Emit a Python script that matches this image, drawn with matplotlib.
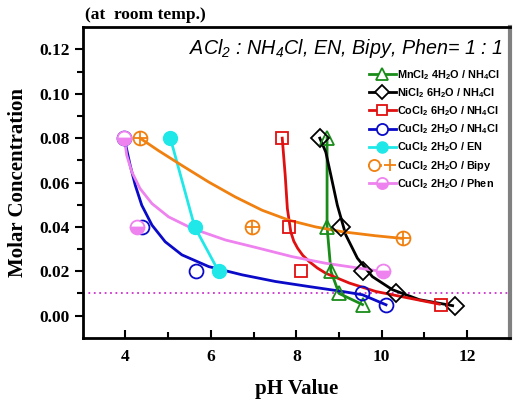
import matplotlib.pyplot as plt
from matplotlib.legend_handler import HandlerTuple

# measured points (pH, molar concentration)
mn_ph = [8.72, 8.72, 8.81, 9.0, 9.55]
mn_c = [0.08, 0.04, 0.02, 0.01, 0.005]
ni_ph = [8.55, 9.05, 9.55, 10.33, 11.71]
ni_c = [0.08, 0.04, 0.02, 0.01, 0.0045]
co_ph = [7.67, 7.83, 8.12, 11.39]
co_c = [0.08, 0.04, 0.02, 0.005]
cu_ph = [3.97, 4.38, 5.65, 9.54, 10.1]
cu_c = [0.08, 0.04, 0.02, 0.01, 0.0047]
en_ph = [5.05, 5.62, 6.18]
en_c = [0.08, 0.04, 0.02]
bipy_ph = [4.34, 6.97, 10.49]
bipy_c = [0.08, 0.04, 0.035]
phen_ph = [3.97, 4.27, 10.02]
phen_c = [0.08, 0.04, 0.02]

# fitted curves
ni_fit_ph = [8.55, 8.69, 8.81, 8.96, 9.16, 9.43, 9.78, 10.25, 10.88, 11.66]
ni_fit_c = [0.080, 0.0737, 0.0632, 0.0498, 0.0363, 0.0259, 0.0176, 0.0117, 0.0072, 0.0045]
co_fit_ph = [7.67, 7.74, 7.79, 7.87, 7.94, 8.03, 8.15, 8.30, 8.49, 8.69, 9.24, 9.86, 10.64, 11.35]
co_fit_c = [0.080, 0.0632, 0.0483, 0.0378, 0.0336, 0.0304, 0.0272, 0.0244, 0.0215, 0.0191,
            0.0147, 0.0109, 0.0079, 0.0052]
cu_fit_ph = [3.97, 4.11, 4.23, 4.38, 4.62, 4.93, 5.32, 5.95, 6.73, 7.51, 8.30, 9.08, 9.55, 10.1]
cu_fit_c = [0.080, 0.0677, 0.0587, 0.0498, 0.0408, 0.0333, 0.0274, 0.0221, 0.0184, 0.0154,
            0.0131, 0.0109, 0.0094, 0.0049]
bipy_fit_ph = [4.34, 4.77, 5.32, 5.95, 6.57, 7.20, 7.83, 8.45, 9.08, 9.86, 10.49]
bipy_fit_c = [0.080, 0.0744, 0.0677, 0.0602, 0.0535, 0.0475, 0.0430, 0.0400, 0.0378, 0.0360, 0.0348]
phen_fit_ph = [3.97, 4.03, 4.15, 4.34, 4.62, 5.01, 5.56, 6.34, 7.12, 7.90, 8.69, 9.47, 10.02]
phen_fit_c = [0.080, 0.0722, 0.0647, 0.0573, 0.0505, 0.0445, 0.0393, 0.0341, 0.0304, 0.0266,
              0.0236, 0.0214, 0.0199]

plt.rcParams['font.family'] = 'Liberation Serif'
plt.rcParams['font.weight'] = 'bold'
plt.rcParams['mathtext.default'] = 'regular'

fig = plt.figure(figsize=(5.24, 4.12), dpi=100)
ax = fig.add_axes([0.158, 0.180, 0.815, 0.754])

lw = 2.0
ms = 10
mew = 1.3
green, black, red, blue = '#1a8c1a', 'black', '#e01010', '#0a0ac8'
cyan, orange, pink = '#20e8e8', '#f08010', '#ee82ee'

ax.axhline(0.01, color='#cc33cc', ls=(0, (1, 2)), lw=1.3, zorder=1)

ax.plot(mn_ph, mn_c, color=green, lw=lw)
ax.plot(ni_fit_ph, ni_fit_c, color=black, lw=lw)
ax.plot(co_fit_ph, co_fit_c, color=red, lw=lw)
ax.plot(cu_fit_ph, cu_fit_c, color=blue, lw=lw)
ax.plot(en_ph, en_c, color=cyan, lw=lw)
ax.plot(bipy_fit_ph, bipy_fit_c, color=orange, lw=lw)
ax.plot(phen_fit_ph, phen_fit_c, color=pink, lw=lw)

ax.plot(mn_ph, mn_c, ls='none', marker='^', ms=ms, mfc='none', mec=green, mew=mew)
ax.plot(ni_ph, ni_c, ls='none', marker='D', ms=ms - 1, mfc='none', mec=black, mew=mew)
ax.plot(co_ph, co_c, ls='none', marker='s', ms=ms - 1, mfc='none', mec=red, mew=mew)
ax.plot(cu_ph, cu_c, ls='none', marker='o', ms=ms, mfc='none', mec=blue, mew=mew)
ax.plot(en_ph, en_c, ls='none', marker='o', ms=ms, mfc=cyan, mec=cyan)
ax.plot(bipy_ph, bipy_c, ls='none', marker='o', ms=ms, mfc='none', mec=orange, mew=mew)
ax.plot(bipy_ph, bipy_c, ls='none', marker='+', ms=ms, mec=orange, mew=mew)
ax.plot(phen_ph, phen_c, ls='none', marker='o', ms=ms, fillstyle='bottom',
        mfc=pink, mfcalt='white', mec=pink, mew=mew)

# legend handles: line + marker
def lh(color, **kw):
    return plt.Line2D([], [], color=color, lw=lw, **kw)

lms = 8
handles = [
    lh(green, marker='^', ms=lms, mfc='white', mec=green, mew=mew),
    lh(black, marker='D', ms=lms - 1, mfc='white', mec=black, mew=mew),
    lh(red, marker='s', ms=lms - 1, mfc='white', mec=red, mew=mew),
    lh(blue, marker='o', ms=lms, mfc='white', mec=blue, mew=mew),
    lh(cyan, marker='o', ms=lms, mfc=cyan, mec=cyan),
    (lh(orange, marker='o', ms=lms, mfc='white', mec=orange, mew=mew),
     lh(orange, ls='none', marker='+', ms=lms, mec=orange, mew=mew)),
    lh(pink, marker='o', ms=lms, fillstyle='bottom', mfc=pink, mfcalt='white', mec=pink, mew=mew),
]
labels = [
    r'MnCl$_2$ 4H$_2$O / NH$_4$Cl',
    r'NiCl$_2$ 6H$_2$O / NH$_4$Cl',
    r'CoCl$_2$ 6H$_2$O / NH$_4$Cl',
    r'CuCl$_2$ 2H$_2$O / NH$_4$Cl',
    r'CuCl$_2$ 2H$_2$O / EN',
    r'CuCl$_2$ 2H$_2$O / Bipy',
    r'CuCl$_2$ 2H$_2$O / Phen',
]
ax.legend(handles, labels, loc='upper right', bbox_to_anchor=(1.0, 0.9),
          frameon=False, numpoints=1, handlelength=2.5, handletextpad=0.15,
          labelspacing=0.4, prop={'family': 'Liberation Sans', 'weight': 'bold', 'size': 7.8},
          handler_map={tuple: HandlerTuple(ndivide=None)})

ax.text(0.985, 0.97, r'ACl$_2$ : NH$_4$Cl, EN, Bipy, Phen= 1 : 1', transform=ax.transAxes,
        ha='right', va='top', fontsize=14.2, style='italic', family='Liberation Sans',
        weight='normal')
fig.text(0.163, 0.945, '(at  room temp.)', fontsize=12.5, weight='bold', ha='left', va='bottom')

ax.set_xlim(3, 13)
ax.set_ylim(-0.01, 0.13)
ax.set_xticks([4, 6, 8, 10, 12])
ax.set_xticks([5, 7, 9, 11], minor=True)
ax.set_yticks([0.0, 0.02, 0.04, 0.06, 0.08, 0.10, 0.12])
ax.set_yticks([0.01, 0.03, 0.05, 0.07, 0.09, 0.11], minor=True)
ax.set_yticklabels(['%.2f' % v for v in ax.get_yticks()])
ax.tick_params(axis='x', which='both', direction='in', labelsize=12.5, width=1.5, pad=8)
ax.tick_params(axis='x', which='major', length=6)
ax.tick_params(axis='x', which='minor', length=4)
ax.tick_params(axis='y', which='both', direction='out', labelsize=12.5, width=1.5)
ax.tick_params(axis='y', which='major', length=6)
ax.tick_params(axis='y', which='minor', length=4)
ax.set_xlabel('pH Value', fontsize=15, weight='bold', labelpad=10)
ax.set_ylabel('Molar Concentration', fontsize=15, weight='bold', labelpad=8)

for s in ['left', 'bottom', 'top']:
    ax.spines[s].set_linewidth(2)
ax.spines['right'].set_linewidth(3)
ax.spines['right'].set_color('#808080')

fig.savefig('out.png', dpi=100)
